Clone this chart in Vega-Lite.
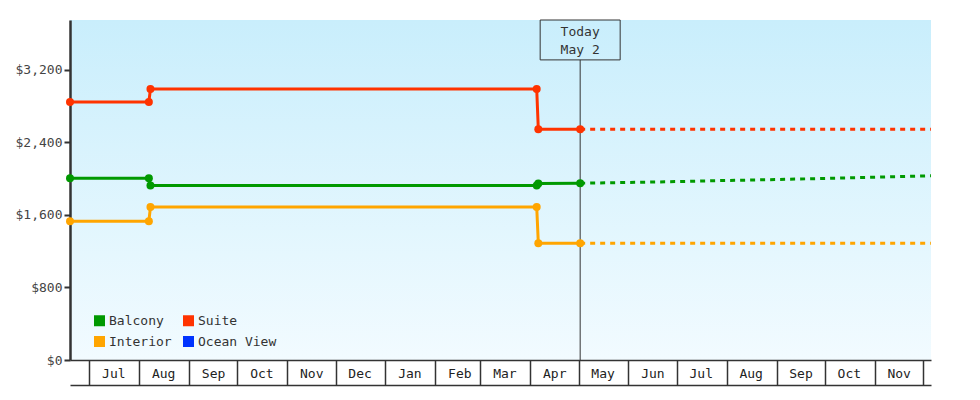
{
  "$schema": "https://vega.github.io/schema/vega-lite/v6.json",
  "width": 861,
  "height": 340,
  "autosize": {"type": "none"},
  "padding": {"left": 70, "top": 20, "right": 49, "bottom": 40},
  "background": "white",
  "datasets": {
    "prices": [
      {"cabin": "Balcony", "date": "2024-06-19", "price": 2005, "part": "history"},
      {"cabin": "Balcony", "date": "2024-08-07", "price": 2005, "part": "history"},
      {"cabin": "Balcony", "date": "2024-08-08", "price": 1925, "part": "history"},
      {"cabin": "Balcony", "date": "2025-04-05", "price": 1925, "part": "history"},
      {"cabin": "Balcony", "date": "2025-04-06", "price": 1948, "part": "history"},
      {"cabin": "Balcony", "date": "2025-05-02", "price": 1950, "part": "history"},
      {"cabin": "Suite", "date": "2024-06-19", "price": 2845, "part": "history"},
      {"cabin": "Suite", "date": "2024-08-07", "price": 2845, "part": "history"},
      {"cabin": "Suite", "date": "2024-08-08", "price": 2990, "part": "history"},
      {"cabin": "Suite", "date": "2025-04-05", "price": 2990, "part": "history"},
      {"cabin": "Suite", "date": "2025-04-06", "price": 2545, "part": "history"},
      {"cabin": "Suite", "date": "2025-05-02", "price": 2545, "part": "history"},
      {"cabin": "Interior", "date": "2024-06-19", "price": 1530, "part": "history"},
      {"cabin": "Interior", "date": "2024-08-07", "price": 1530, "part": "history"},
      {"cabin": "Interior", "date": "2024-08-08", "price": 1688, "part": "history"},
      {"cabin": "Interior", "date": "2025-04-05", "price": 1688, "part": "history"},
      {"cabin": "Interior", "date": "2025-04-06", "price": 1288, "part": "history"},
      {"cabin": "Interior", "date": "2025-05-02", "price": 1288, "part": "history"},
      {"cabin": "Balcony", "date": "2025-05-02", "price": 1950, "part": "forecast"},
      {"cabin": "Balcony", "date": "2025-06-01", "price": 1958, "part": "forecast"},
      {"cabin": "Balcony", "date": "2025-07-01", "price": 1968, "part": "forecast"},
      {"cabin": "Balcony", "date": "2025-08-01", "price": 1980, "part": "forecast"},
      {"cabin": "Balcony", "date": "2025-09-01", "price": 1990, "part": "forecast"},
      {"cabin": "Balcony", "date": "2025-10-01", "price": 2003, "part": "forecast"},
      {"cabin": "Balcony", "date": "2025-11-01", "price": 2016, "part": "forecast"},
      {"cabin": "Balcony", "date": "2025-12-06", "price": 2032, "part": "forecast"},
      {"cabin": "Suite", "date": "2025-05-02", "price": 2545, "part": "forecast"},
      {"cabin": "Suite", "date": "2025-12-06", "price": 2545, "part": "forecast"},
      {"cabin": "Interior", "date": "2025-05-02", "price": 1288, "part": "forecast"},
      {"cabin": "Interior", "date": "2025-12-06", "price": 1288, "part": "forecast"}
    ],
    "today": [{"date": "2025-05-02", "label": "Today\nMay 2"}]
  },
  "layer": [
    {
      "data": {"name": "today"},
      "mark": {"type": "rule", "color": "#333333", "strokeWidth": 1},
      "encoding": {
        "x": {
          "field": "date", "type": "temporal",
          "axis": {"title": null, "orient": "bottom", "offset": 25, "labels": false, "ticks": false, "domain": true, "grid": false}
        },
        "y": {"datum": 0, "type": "quantitative"},
        "y2": {"datum": 3310}
      }
    },
    {
      "data": {"name": "today"},
      "mark": {"type": "rect", "fill": null, "fillOpacity": 0, "stroke": "#333333", "strokeWidth": 1, "xOffset": -40, "x2Offset": 40},
      "encoding": {
        "x": {"field": "date", "type": "temporal", "axis": null},
        "x2": {"field": "date"},
        "y": {"datum": 3750, "type": "quantitative"},
        "y2": {"datum": 3310}
      }
    },
    {
      "data": {"name": "today"},
      "mark": {"type": "text", "font": "DejaVu Sans Mono", "fontSize": 13, "color": "#333333", "align": "center", "baseline": "middle", "lineBreak": "\n", "lineHeight": 18},
      "encoding": {
        "x": {"field": "date", "type": "temporal", "axis": null},
        "y": {"datum": 3620, "type": "quantitative"},
        "text": {"field": "label"}
      }
    },
    {
      "data": {"name": "prices"},
      "transform": [{"filter": "datum.part === 'history'"}],
      "mark": {"type": "line", "strokeWidth": 3, "interpolate": "linear"},
      "encoding": {
        "x": {
          "field": "date", "type": "temporal",
          "scale": {"type": "utc", "domain": ["2024-06-19", "2025-12-06"], "nice": false},
          "axis": {
            "title": null,
            "orient": "bottom",
            "tickCount": {"interval": "month", "step": 1},
            "tickSize": 25,
            "labelAlign": "center",
            "labelBaseline": "middle",
            "labelOffset": 24,
            "labelPadding": -12,
            "labelExpr": "datum.value >= utc(2025, 11, 1) ? '' : utcFormat(datum.value, '%b')"
          }
        },
        "y": {
          "field": "price", "type": "quantitative",
          "scale": {"domain": [0, 3750], "nice": false},
          "axis": {"title": null, "values": [0, 800, 1600, 2400, 3200], "format": "$,d"}
        },
        "color": {
          "field": "cabin", "type": "nominal",
          "scale": {"domain": ["Balcony", "Interior", "Suite", "Ocean View"], "range": ["#009900", "#ffa500", "#ff3300", "#0033ff"]},
          "legend": {
            "orient": "none", "legendX": 23, "legendY": 294, "columns": 2, "title": null,
            "symbolType": "square", "symbolSize": 121, "symbolStrokeWidth": 0,
            "labelFont": "DejaVu Sans Mono", "labelFontSize": 13, "labelColor": "#333333",
            "labelOffset": 3, "columnPadding": 10, "rowPadding": 7,
            "encode": {"symbols": {"update": {"fill": {"scale": "color", "field": "value"}, "stroke": {"value": null}, "opacity": {"value": 1}}}}
          }
        }
      }
    },
    {
      "data": {"name": "prices"},
      "transform": [{"filter": "datum.part === 'forecast'"}],
      "mark": {"type": "line", "strokeWidth": 3, "strokeDash": [5, 5]},
      "encoding": {
        "x": {"field": "date", "type": "temporal", "axis": null},
        "y": {"field": "price", "type": "quantitative"},
        "color": {"field": "cabin", "type": "nominal", "legend": null}
      }
    },
    {
      "data": {"name": "prices"},
      "transform": [{"filter": "datum.part === 'history'"}],
      "mark": {"type": "point", "shape": "circle", "filled": true, "size": 64, "opacity": 1},
      "encoding": {
        "x": {"field": "date", "type": "temporal", "axis": null},
        "y": {"field": "price", "type": "quantitative"},
        "color": {"field": "cabin", "type": "nominal", "legend": null}
      }
    }
  ],
  "resolve": {"axis": {"x": "independent"}},
  "config": {
    "view": {
      "fill": {"gradient": "linear", "x1": 0, "y1": 0, "x2": 0, "y2": 1, "stops": [{"offset": 0, "color": "#c9eefc"}, {"offset": 1, "color": "#f2fbff"}]},
      "stroke": null
    },
    "axisX": {
      "domainColor": "#333333", "domainWidth": 1.5, "tickColor": "#333333", "tickWidth": 1.5,
      "labelFont": "DejaVu Sans Mono", "labelFontSize": 13, "labelColor": "#222222", "grid": false
    },
    "axisY": {
      "domainColor": "#333333", "domainWidth": 2.5, "tickColor": "#333333", "tickWidth": 2, "tickSize": 6,
      "labelFont": "DejaVu Sans Mono", "labelFontSize": 13, "labelColor": "#444444", "labelPadding": 2, "grid": false
    }
  }
}
